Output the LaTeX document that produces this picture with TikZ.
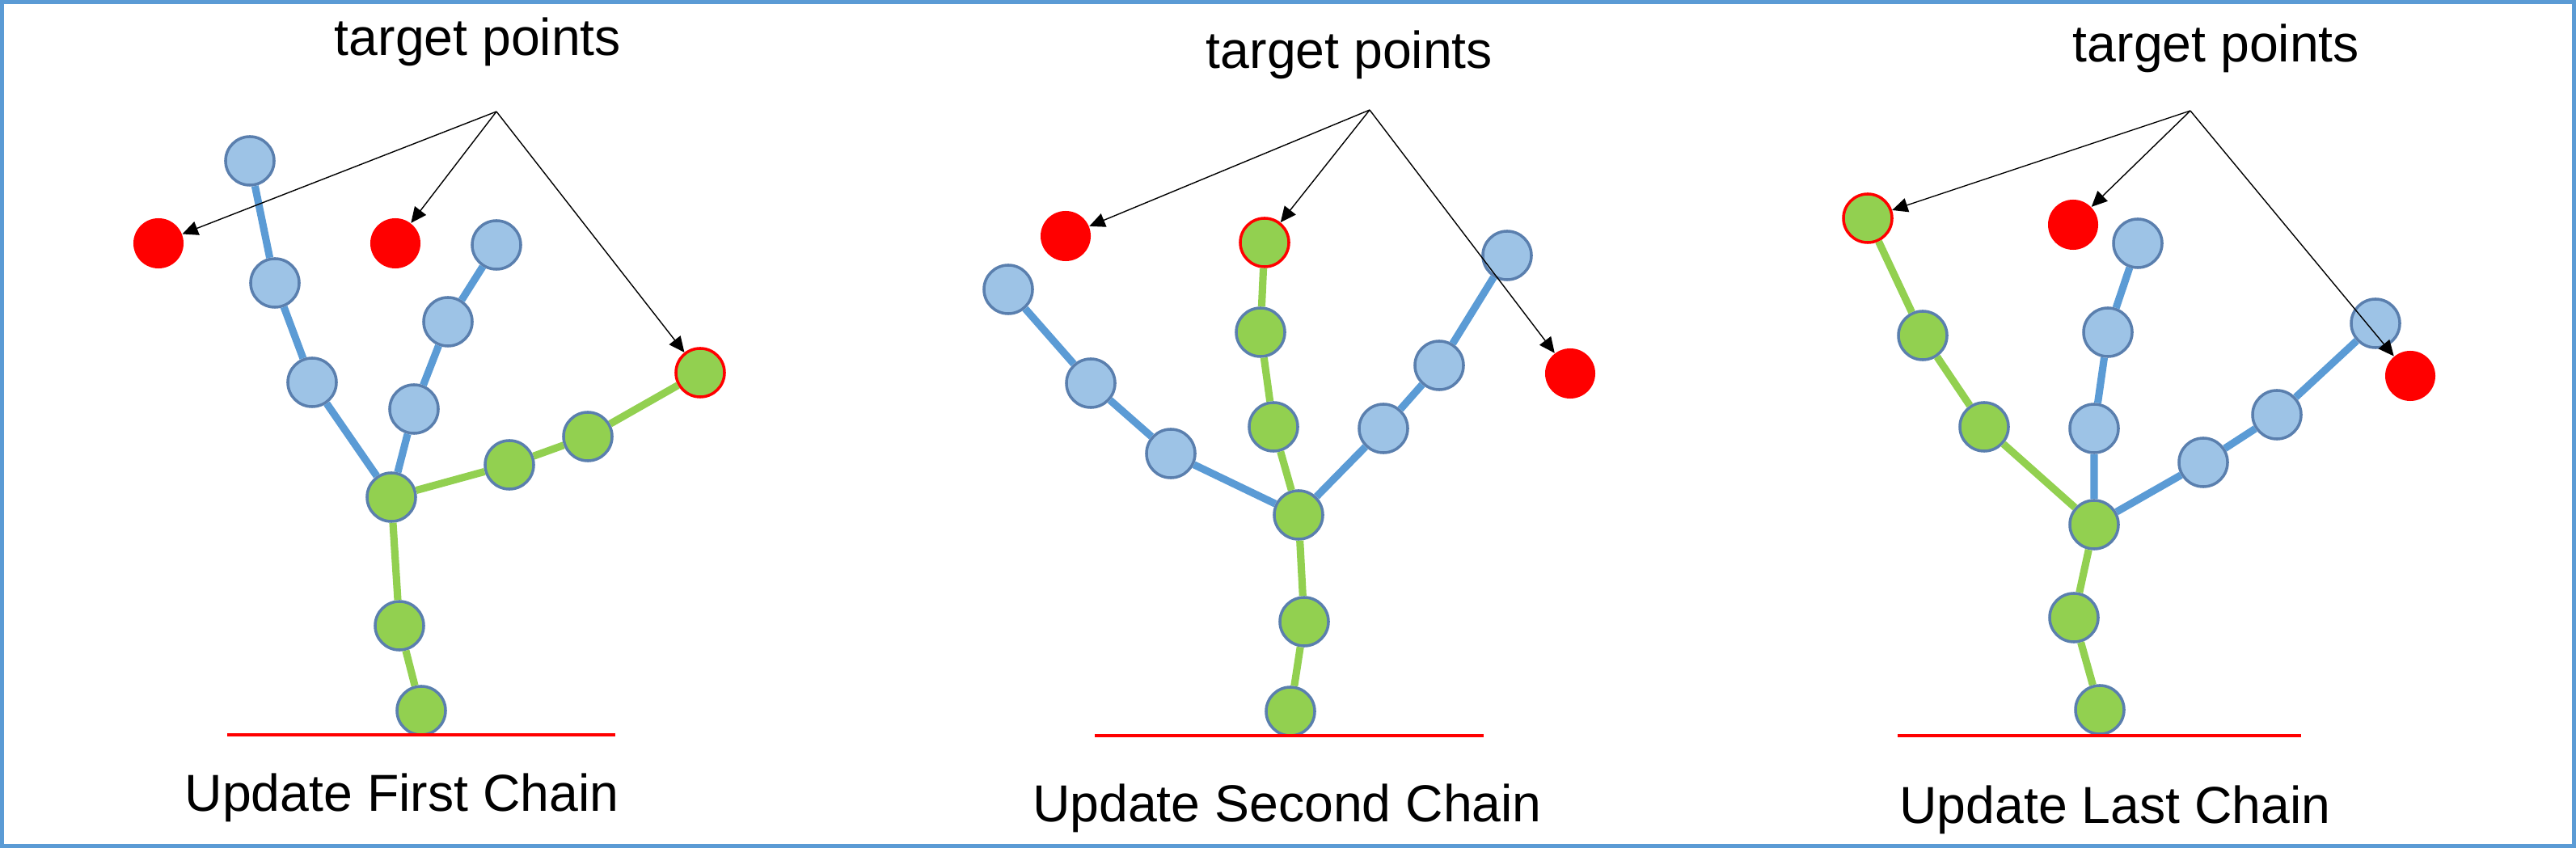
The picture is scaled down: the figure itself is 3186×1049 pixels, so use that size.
\documentclass[tikz,border=0pt]{standalone}
\usepackage{fontspec}
\setmainfont{Liberation Sans}
\usetikzlibrary{arrows.meta}
\definecolor{jointblue}{HTML}{9DC3E6}
\definecolor{jointgreen}{HTML}{92D050}
\definecolor{jointedge}{HTML}{5A7FAE}
\definecolor{boneblue}{HTML}{5B9BD5}
\tikzset{
    joint/.style={
        circle,draw=jointedge,line width=1pt,
        minimum size=0.6cm,inner sep=0pt
    },
    blue joint/.style={joint,fill=jointblue},
    green joint/.style={joint,fill=jointgreen},
    reached joint/.style={joint,fill=jointgreen,draw=red},
    target/.style={circle,fill=red,minimum size=0.62cm,inner sep=0pt},
    blue bone/.style={draw=boneblue,line width=2.6pt},
    green bone/.style={draw=jointgreen,line width=2.6pt},
    ground/.style={draw=red,line width=1.4pt},
    aim/.style={draw=black,line width=0.4pt,-{Triangle[length=5.5pt,width=5pt]}},
    caption/.style={font=\fontsize{18.3}{22}\selectfont,anchor=base,inner sep=0pt}
}

\begin{document}
\begin{tikzpicture}[x=0.01cm,y=-0.01cm]
\useasboundingbox (0,0) rectangle (3186,1049);
\draw[boneblue,line width=0.05cm] (2.5,2.5) rectangle (3183.5,1046.5);

% first chain
\node[green joint] (A-root) at (484,615) {};
\foreach \i/\x/\y in {1/494/774,2/521/879}
    \node[green joint] (A-t\i) at (\x,\y) {};
\foreach \i/\x/\y in {1/386/473,2/340/350,3/309/199}
    \node[blue joint] (A-l\i) at (\x,\y) {};
\foreach \i/\x/\y in {1/512/506,2/554/398,3/614/303}
    \node[blue joint] (A-m\i) at (\x,\y) {};
\foreach \i/\x/\y in {1/630/575,2/727/540}
    \node[green joint] (A-r\i) at (\x,\y) {};
\node[reached joint] (A-r3) at (866,461) {};
\node[target] (A-g1) at (196,301) {};
\node[target] (A-g2) at (489,301) {};
\draw[green bone] (A-t2) -- (A-t1) -- (A-root);
\draw[blue bone] (A-root) -- (A-l1) -- (A-l2) -- (A-l3);
\draw[blue bone] (A-root) -- (A-m1) -- (A-m2) -- (A-m3);
\draw[green bone] (A-root) -- (A-r1) -- (A-r2) -- (A-r3);
\draw[ground] (281,909) -- (761,909);
\coordinate (A-src) at (614,138);
\draw[aim] (A-src) -- (A-g1);
\draw[aim] (A-src) -- (A-g2);
\draw[aim] (A-src) -- (A-r3);
\node[caption] (A-title) at (591,69) {target points};
\node[caption] (A-label) at (497,1003) {Update First Chain};

% second chain
\node[green joint] (B-root) at (1606,637) {};
\foreach \i/\x/\y in {1/1613/769,2/1596/880}
    \node[green joint] (B-t\i) at (\x,\y) {};
\foreach \i/\x/\y in {1/1448/561,2/1349/474,3/1247/358}
    \node[blue joint] (B-l\i) at (\x,\y) {};
\foreach \i/\x/\y in {1/1575/528,2/1559/411}
    \node[green joint] (B-m\i) at (\x,\y) {};
\node[reached joint] (B-m3) at (1564,300) {};
\foreach \i/\x/\y in {1/1711/530,2/1780/452,3/1864/316}
    \node[blue joint] (B-r\i) at (\x,\y) {};
\node[target] (B-g1) at (1318,292) {};
\node[target] (B-g3) at (1942,462) {};
\draw[green bone] (B-t2) -- (B-t1) -- (B-root);
\draw[blue bone] (B-root) -- (B-l1) -- (B-l2) -- (B-l3);
\draw[green bone] (B-root) -- (B-m1) -- (B-m2) -- (B-m3);
\draw[blue bone] (B-root) -- (B-r1) -- (B-r2) -- (B-r3);
\draw[ground] (1354,910) -- (1835,910);
\coordinate (B-src) at (1694,136);
\draw[aim] (B-src) -- (B-g1);
\draw[aim] (B-src) -- (B-m3);
\draw[aim] (B-src) -- (B-g3);
\node[caption] (B-title) at (1669,85) {target points};
\node[caption] (B-label) at (1592,1017) {Update Second Chain};

% last chain
\node[green joint] (C-root) at (2590,649) {};
\foreach \i/\x/\y in {1/2565/764,2/2597/878}
    \node[green joint] (C-t\i) at (\x,\y) {};
\foreach \i/\x/\y in {1/2454/528,2/2378/415}
    \node[green joint] (C-l\i) at (\x,\y) {};
\node[reached joint] (C-l3) at (2310,270) {};
\foreach \i/\x/\y in {1/2590/530,2/2607/411,3/2644/301}
    \node[blue joint] (C-m\i) at (\x,\y) {};
\foreach \i/\x/\y in {1/2725/572,2/2816/513,3/2938/400}
    \node[blue joint] (C-r\i) at (\x,\y) {};
\node[target] (C-g2) at (2564,278) {};
\node[target] (C-g3) at (2981,465) {};
\draw[green bone] (C-t2) -- (C-t1) -- (C-root);
\draw[green bone] (C-root) -- (C-l1) -- (C-l2) -- (C-l3);
\draw[blue bone] (C-root) -- (C-m1) -- (C-m2) -- (C-m3);
\draw[blue bone] (C-root) -- (C-r1) -- (C-r2) -- (C-r3);
\draw[ground] (2347,910) -- (2846,910);
\coordinate (C-src) at (2709,137);
\draw[aim] (C-src) -- (C-l3);
\draw[aim] (C-src) -- (C-g2);
\draw[aim] (C-src) -- (C-g3);
\node[caption] (C-title) at (2741,77) {target points};
\node[caption] (C-label) at (2616,1018) {Update Last Chain};
\end{tikzpicture}
\end{document}
